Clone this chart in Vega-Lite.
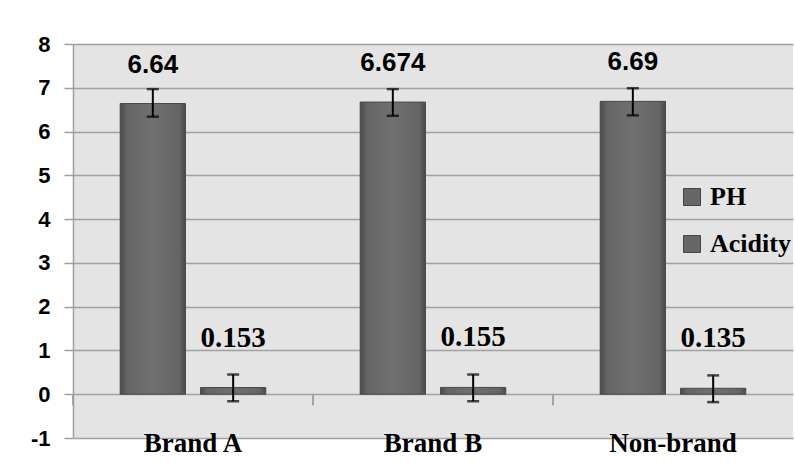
{
  "$schema": "https://vega.github.io/schema/vega-lite/v6.json",
  "width": 720,
  "height": 394,
  "autosize": {"type": "none"},
  "padding": {"left": 73, "top": 44, "right": 2, "bottom": 32},
  "background": "white",
  "config": {
    "view": {"fill": "#e4e4e4", "stroke": null},
    "legend": {"symbolOpacity": 1}
  },
  "data": {
    "values": [
      {"brand": "Brand A", "series": "PH", "value": 6.64, "lo": 6.34, "hi": 6.97},
      {"brand": "Brand A", "series": "Acidity", "value": 0.153, "lo": -0.16, "hi": 0.45},
      {"brand": "Brand B", "series": "PH", "value": 6.674, "lo": 6.36, "hi": 6.97},
      {"brand": "Brand B", "series": "Acidity", "value": 0.155, "lo": -0.16, "hi": 0.45},
      {"brand": "Non-brand", "series": "PH", "value": 6.69, "lo": 6.37, "hi": 6.99},
      {"brand": "Non-brand", "series": "Acidity", "value": 0.135, "lo": -0.18, "hi": 0.43}
    ]
  },
  "encoding": {
    "x": {
      "field": "brand", "type": "nominal", "sort": ["Brand A", "Brand B", "Non-brand"],
      "scale": {"paddingInner": 0, "paddingOuter": 0},
      "axis": {
        "title": null, "labelAngle": 0, "domain": false, "ticks": false,
        "labelFont": "Liberation Serif", "labelFontWeight": "bold", "labelFontSize": 27,
        "labelColor": "black", "labelPadding": -8
      }
    },
    "xOffset": {
      "field": "series", "type": "nominal",
      "scale": {"domain": ["PH", "Acidity"], "paddingInner": 0.1875, "paddingOuter": 0.5875}
    },
    "y": {
      "field": "value", "type": "quantitative",
      "scale": {"domain": [-1, 8], "nice": false},
      "axis": {
        "title": null, "values": [-1, 0, 1, 2, 3, 4, 5, 6, 7, 8],
        "labelExpr": "'' + datum.value",
        "grid": true, "gridColor": "#a0a0a0", "gridOpacity": 1, "gridWidth": 1.5,
        "domainColor": "#a0a0a0", "domainWidth": 1.5, "tickColor": "#a0a0a0", "tickSize": 9, "tickWidth": 1.5,
        "labelPadding": 14, "labelFont": "Liberation Sans", "labelFontWeight": "bold",
        "labelFontSize": 22, "labelColor": "black"
      }
    }
  },
  "layer": [
    {
      "mark": {
        "type": "bar",
        "stroke": "#4a4a4a",
        "strokeWidth": 1,
        "fill": {
          "gradient": "linear", "x1": 0, "y1": 0, "x2": 1, "y2": 0,
          "stops": [
            {"offset": 0, "color": "#4a4a4a"},
            {"offset": 0.1, "color": "#656565"},
            {"offset": 0.5, "color": "#707070"},
            {"offset": 0.9, "color": "#656565"},
            {"offset": 1, "color": "#4a4a4a"}
          ]
        }
      }
    },
    {
      "mark": {"type": "square", "opacity": 0},
      "encoding": {
        "color": {
          "field": "series", "type": "nominal",
          "scale": {"domain": ["PH", "Acidity"], "range": ["#666666", "#666666"]},
          "legend": {
            "orient": "none", "legendX": 606, "legendY": 140, "title": null,
            "symbolType": "square", "symbolSize": 289, "symbolStrokeColor": "#444444",
            "symbolStrokeWidth": 1, "symbolOpacity": 1,
            "labelFont": "Liberation Serif", "labelFontWeight": "bold", "labelFontSize": 26,
            "labelColor": "black", "rowPadding": 21, "labelOffset": 5
          }
        }
      }
    },
    {
      "mark": {"type": "rule", "color": "black", "strokeWidth": 2},
      "encoding": {
        "y": {"field": "lo", "type": "quantitative"},
        "y2": {"field": "hi"}
      }
    },
    {
      "mark": {"type": "tick", "color": "black", "thickness": 2.5, "size": 12, "orient": "horizontal"},
      "encoding": {"y": {"field": "lo", "type": "quantitative"}}
    },
    {
      "mark": {"type": "tick", "color": "black", "thickness": 2.5, "size": 12, "orient": "horizontal"},
      "encoding": {"y": {"field": "hi", "type": "quantitative"}}
    },
    {
      "transform": [{"filter": "datum.series === 'PH'"}],
      "mark": {
        "type": "text", "baseline": "bottom", "dy": -26,
        "font": "Liberation Sans", "fontWeight": "bold", "fontSize": 26, "color": "black"
      },
      "encoding": {"text": {"field": "value", "type": "quantitative"}}
    },
    {
      "transform": [{"filter": "datum.series === 'Acidity'"}],
      "mark": {
        "type": "text", "baseline": "bottom", "dy": -35,
        "font": "Liberation Serif", "fontWeight": "bold", "fontSize": 29, "color": "black"
      },
      "encoding": {"text": {"field": "value", "type": "quantitative"}}
    },
    {
      "mark": {"type": "rule", "color": "#a0a0a0", "strokeWidth": 1.5},
      "encoding": {
        "x": {"field": "brand", "type": "nominal", "bandPosition": 0},
        "xOffset": null,
        "y": {"datum": 0, "type": "quantitative"},
        "y2": {"datum": -0.25}
      }
    }
  ]
}
